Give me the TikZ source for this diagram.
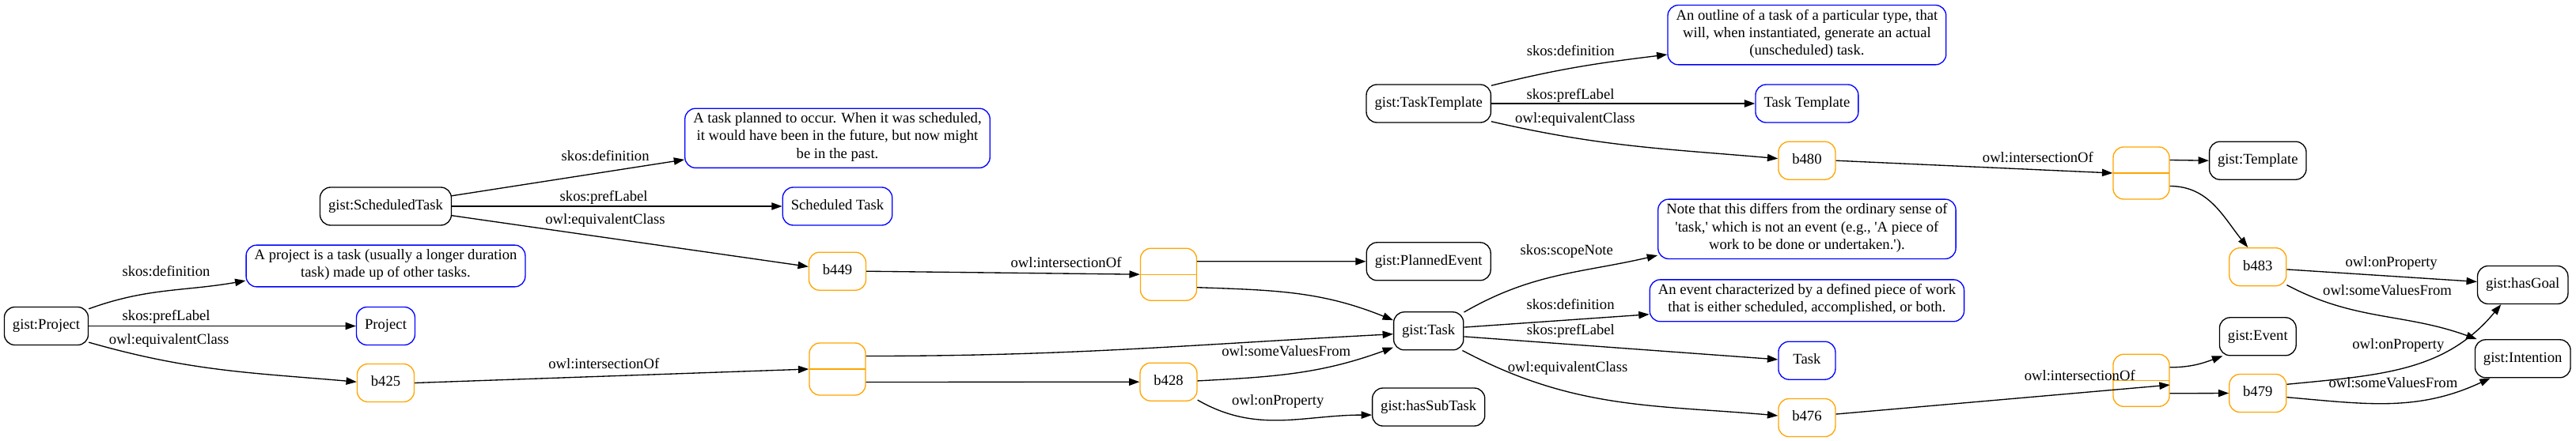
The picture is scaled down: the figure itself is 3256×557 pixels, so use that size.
\documentclass[tikz,border=0pt]{standalone}
\usepackage{fontspec}
\setmainfont{Liberation Serif}
\usepackage{tikz}
\usetikzlibrary{positioning,arrows.meta}
\definecolor{gvorange}{HTML}{FFA500}
\newlength{\px}
\setlength{\px}{0.75pt}

\begin{document}
\begin{tikzpicture}[
	x=\px, y=\px,
	on grid,
	every node/.style={font=\fontsize{14}{16.8}\selectfont, execute at begin node=\strut, execute at end node=\strut},
	box/.style={draw, rounded corners=10pt, line width=1pt, minimum height=36pt, minimum width=54pt, inner xsep=7.9pt, inner ysep=4pt, align=center},
	blackbox/.style={box},
	bluebox/.style={box, draw=blue},
	orangebox/.style={box, draw=gvorange},
	recbox/.style={box, draw=gvorange, minimum width=53.3pt, minimum height=49.5pt,
		path picture={\draw[gvorange, line width=1pt] (path picture bounding box.west) -- (path picture bounding box.east);}},
	lbl/.style={inner sep=0pt},
	arr/.style={-{Triangle[length=10pt, width=7pt]}, line width=1pt}
	]
	\useasboundingbox (0,0) rectangle (3256,-557);
	
	% Nodes
	\node[blackbox] (project) at (58.5,-412.5) {gist:Project};
	\node[bluebox, right=429\px of project] (projlabel) {Project};
	\node[bluebox, above=76\px of projlabel] (projdef) {A project is a task (usually a longer duration\\task) made up of other tasks.};
	\node[orangebox, below=72\px of projlabel] (b425) {b425};
	
	\node[blackbox, above=75.5\px of projdef] (schedtask) {gist:ScheduledTask};
	\node[bluebox, right=571\px of schedtask] (schedlabel) {Scheduled Task};
	\node[bluebox, above=86.2\px of schedlabel] (scheddef) {A task planned to occur. When it was scheduled,\\it would have been in the future, but now might\\be in the past.};
	\node[orangebox, below=82.2\px of schedlabel] (b449) {b449};
	
	\node[recbox, above right=17.5\px and 571\px of b425] (int2) {};
	\node[recbox, below right=4\px and 418.5\px of b449] (int1) {};
	\node[orangebox, below=136\px of int1] (b428) {b428};
	
	\node[blackbox, below right=71.6\px and 328.7\px of int1] (task) {gist:Task};
	\node[blackbox, above=88\px of task] (planned) {gist:PlannedEvent};
	\node[blackbox, below=96.2\px of task] (subtask) {gist:hasSubTask};
	\node[blackbox, above=287.8\px of task] (tasktemplate) {gist:TaskTemplate};
	
	\node[bluebox, below right=37.4\px and 478.2\px of task] (tasklabel) {Task};
	\node[orangebox, below=72.3\px of tasklabel] (b476) {b476};
	\node[bluebox, above=75.9\px of tasklabel] (taskdef) {An event characterized by a defined piece of work\\that is either scheduled, accomplished, or both.};
	\node[bluebox, above=90.5\px of taskdef] (scope) {Note that this differs from the ordinary sense of\\\textquotesingle task,\textquotesingle{} which is not an event (e.g., \textquotesingle A piece of\\work to be done or undertaken.\textquotesingle).};
	
	\node[bluebox, right=478.2\px of tasktemplate] (ttlabel) {Task Template};
	\node[bluebox, above=86.8\px of ttlabel] (ttdef) {An outline of a task of a particular type, that\\will, when instantiated, generate an actual\\(unscheduled) task.};
	\node[orangebox, below=72.2\px of ttlabel] (b480) {b480};
	
	\node[recbox, below right=15.8\px and 422.6\px of b480] (int3) {};
	\node[blackbox, above right=15.8\px and 147.3\px of int3] (template) {gist:Template};
	\node[orangebox, below=134.5\px of template] (b483) {b483};
	
	\node[recbox, above right=47.2\px and 422.6\px of b476] (int4) {};
	\node[orangebox, below right=16.2\px and 147.3\px of int4] (b479) {b479};
	\node[blackbox, above=71.7\px of b479] (event) {gist:Event};
	
	\node[blackbox, below right=22.8\px and 334.9\px of b483] (hasgoal) {gist:hasGoal};
	\node[blackbox, below=93.3\px of hasgoal] (intention) {gist:Intention};
	
	% Arrows
	\draw[arr] (project.22) to[out=20, in=190] node[lbl, pos=0.5, yshift=17.5pt] {skos:definition} (projdef.186);
	\draw[arr] (project.east) -- node[lbl, pos=0.29, yshift=8.9pt] {skos:prefLabel} (projlabel.west);
	\draw[arr] (project.-21) to[out=-16, in=175] node[lbl, pos=0.29, yshift=20pt] {owl:equivalentClass} (b425.178);
	\draw[arr] (b425.east) -- node[lbl, pos=0.48, yshift=10.4pt] {owl:intersectionOf} (int2.west);
	
	\draw[arr] (schedtask.9) -- node[lbl, pos=0.66, yshift=14pt] {skos:definition} (scheddef.188);
	\draw[arr] (schedtask.east) -- node[lbl, pos=0.46, yshift=8.5pt] {skos:prefLabel} (schedlabel.west);
	\draw[arr] (schedtask.-8) -- node[lbl, pos=0.43, yshift=16.5pt] {owl:equivalentClass} (b449.171);
	\draw[arr] (b449.east) -- node[lbl, pos=0.73, yshift=8.9pt] {owl:intersectionOf} (int1.west);
	
	\draw[arr] ([yshift=16.5\px]int1.east) -- (planned.west);
	\draw[arr] ([yshift=-16.5\px]int1.east) to[out=-2, in=158] (task.163);
	\draw[arr] ([yshift=16.5\px]int2.east) to[out=0, in=183] (task.185);
	\draw[arr] ([yshift=-16.5\px]int2.east) -- (b428.west);
	\draw[arr] (b428.2) to[out=3, in=200] node[lbl, pos=0.44, yshift=20.5pt] {owl:someValuesFrom} (task.205);
	\draw[arr] (b428.-32) to[out=-30, in=180] node[lbl, pos=0.48, yshift=18.2pt] {owl:onProperty} (subtask.188);
	
	\draw[arr] (task.28) to[out=30, in=193] node[lbl, pos=0.55, yshift=21pt] {skos:scopeNote} (scope.190);
	\draw[arr] (task.6) -- node[lbl, pos=0.575, yshift=13.6pt] {skos:definition} (taskdef.185);
	\draw[arr] (task.-9) -- node[lbl, pos=0.34, yshift=12.4pt] {skos:prefLabel} (tasklabel.178);
	\draw[arr] (task.-30) to[out=-28, in=175] node[lbl, pos=0.34, yshift=22.3pt] {owl:equivalentClass} (b476.176);
	
	\draw[arr] (tasktemplate.16) to[out=14, in=187] node[lbl, pos=0.45, yshift=15.5pt] {skos:definition} (ttdef.188);
	\draw[arr] (tasktemplate.east) -- node[lbl, pos=0.3, yshift=7.7pt] {skos:prefLabel} (ttlabel.west);
	\draw[arr] (tasktemplate.-16) to[out=-13, in=175] node[lbl, pos=0.28, yshift=17.5pt] {owl:equivalentClass} (b480.176);
	
	\draw[arr] (b480.east) -- node[lbl, pos=0.73, yshift=10.2pt] {owl:intersectionOf} (int3.west);
	\draw[arr] (b476.7) -- node[lbl, pos=0.73, yshift=15pt] {owl:intersectionOf} (int4.-9);
	
	\draw[arr] ([yshift=16.5\px]int3.east) -- (template.west);
	\draw[arr] ([yshift=-16.5\px]int3.east) to[out=0, in=129] (b483.117);
	\draw[arr] (b483.-5) -- node[lbl, pos=0.55, yshift=12pt] {owl:onProperty} (hasgoal.176);
	\draw[arr] (b483.-32) to[out=-28, in=160] node[lbl, pos=0.54, yshift=24.5pt] {owl:someValuesFrom} (intention.157);
	
	\draw[arr] ([yshift=16.5\px]int4.east) to[out=0, in=200] (event.209);
	\draw[arr] ([yshift=-16.5\px]int4.east) -- (b479.west);
	\draw[arr] (b479.17) .. controls +(120.5,11.7) and +(-70.3,-84.7) .. (hasgoal.222) node[lbl, pos=0.45, yshift=22.5pt] {owl:onProperty};
	\draw[arr] (b479.-8) to[out=-5, in=205] node[lbl, pos=0.51, yshift=18pt] {owl:someValuesFrom} (intention.211);
	
\end{tikzpicture}
\end{document}
